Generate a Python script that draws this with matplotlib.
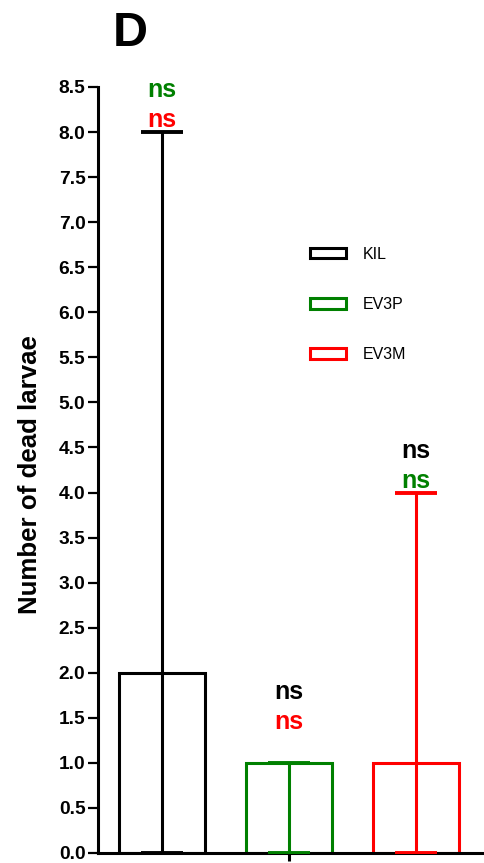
import matplotlib.pyplot as plt
from matplotlib.patches import Patch

plt.rcParams['font.family'] = ['Liberation Sans', 'DejaVu Sans']

groups = ['KIL', 'EV3P', 'EV3M']
colors = ['black', '#008000', '#ff0000']
means = [2.0, 1.0, 1.0]
upper = [8.0, 1.0, 4.0]
lower = [0.0, 0.0, 0.0]

# significance labels: (group index, y, text, colour)
ns_labels = [
    (0, 8.47, 'ns', '#008000'),
    (0, 8.13, 'ns', '#ff0000'),
    (1, 1.79, 'ns', 'black'),
    (1, 1.45, 'ns', '#ff0000'),
    (2, 4.46, 'ns', 'black'),
    (2, 4.13, 'ns', '#008000'),
]
yticks = [i * 0.5 for i in range(18)]

fig = plt.figure(figsize=(4.85, 8.63), dpi=100)
ax = fig.add_axes([0.202, 0.0116, 0.798, 0.8876])

x = list(range(len(groups)))
for i in x:
    ax.bar(i, means[i], width=0.67, facecolor='none', edgecolor=colors[i],
           linewidth=2.2, zorder=2)
    ax.errorbar(i, means[i], yerr=[[means[i] - lower[i]], [upper[i] - means[i]]],
                fmt='none', ecolor=colors[i], elinewidth=2.2, capsize=15,
                capthick=2.8, zorder=3)

for gi, y, txt, c in ns_labels:
    ax.text(gi, y, txt, color=c, fontsize=18, fontweight='bold',
            ha='center', va='center')

ax.set_xlim(-0.504, 2.543)
ax.set_ylim(0, 8.5)
ax.set_yticks(yticks)
ax.set_yticklabels(['%.1f' % t for t in yticks], fontsize=13.8, fontweight='bold')
ax.set_xticks([1])
ax.set_xticklabels([''])
ax.tick_params(axis='y', length=7, width=1.6, pad=2)
ax.tick_params(axis='x', length=6, width=2.2)
for s in ['top', 'right']:
    ax.spines[s].set_visible(False)
ax.spines['left'].set_linewidth(2.2)
ax.spines['bottom'].set_linewidth(2.2)
ax.spines['left'].set_bounds(0, 8.5)

handles = [Patch(facecolor='white', edgecolor=c, linewidth=2.2) for c in colors]
ax.legend(handles, groups, loc='upper left', bbox_to_anchor=(0.51, 0.81),
          frameon=False, fontsize=11.5, handlelength=2.3, handleheight=0.62,
          handletextpad=1.0, labelspacing=2.2)

fig.text(30 / 485, 1 - 475 / 863, 'Number of dead larvae', rotation=90,
         ha='center', va='center', fontsize=18.6, fontweight='bold')
fig.text(130 / 485, 1 - 34 / 863, 'D', ha='center', va='center',
         fontsize=35, fontweight='bold')

fig.savefig('out.png', dpi=100)
